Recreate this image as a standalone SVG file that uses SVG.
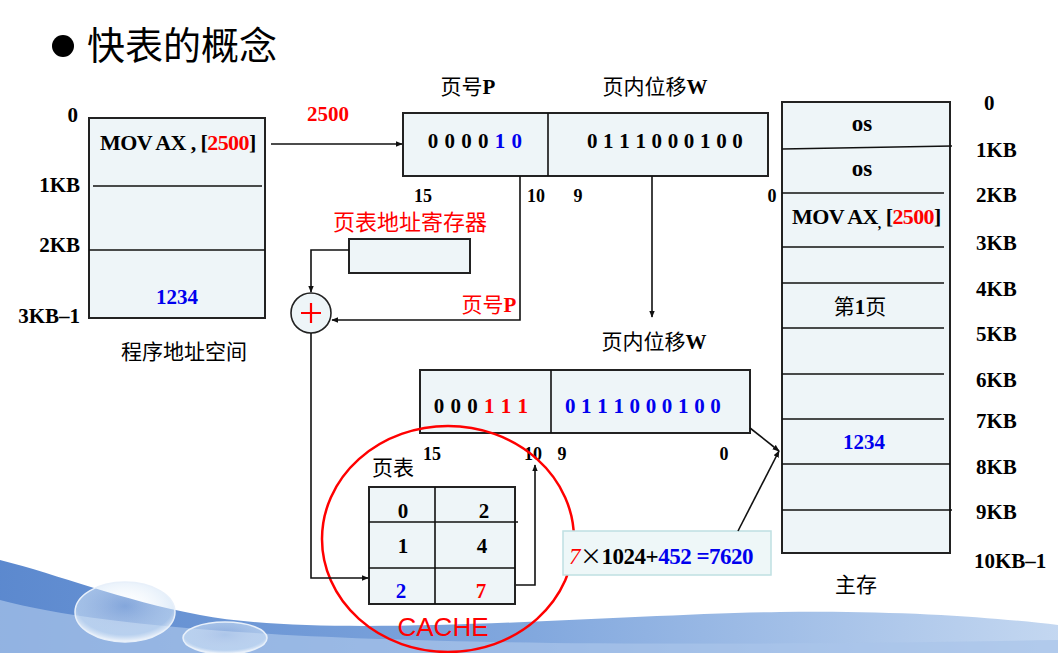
<svg xmlns="http://www.w3.org/2000/svg" width="1058" height="653" viewBox="0 0 1058 653" font-size="20">
<defs>
<style>
.b{font-family:"Liberation Serif","Noto Sans CJK SC",serif;font-weight:bold;fill:#000}
.c{font-family:"Noto Sans CJK SC",sans-serif;fill:#000}
.red{fill:#ff0000}
.blue{fill:#0000ee}
.box{fill:#eef5f8;stroke:#222;stroke-width:2}
.ln{stroke:#111;stroke-width:1.6;fill:none}
</style>
<marker id="ah" viewBox="0 0 10 10" refX="9" refY="5" markerWidth="7" markerHeight="7" orient="auto-start-reverse" markerUnits="userSpaceOnUse">
<path d="M0,1 L10,5 L0,9 z" fill="#111"/>
</marker>
<linearGradient id="wave" x1="0" y1="0" x2="1" y2="0">
<stop offset="0" stop-color="#3f74c6"/>
<stop offset="0.5" stop-color="#6b98d8"/>
<stop offset="1" stop-color="#b9d0ee"/>
</linearGradient>
<radialGradient id="bub" cx="0.5" cy="0.4" r="0.6">
<stop offset="0" stop-color="#ffffff" stop-opacity="0.2"/>
<stop offset="0.8" stop-color="#cfe2f6" stop-opacity="0.6"/>
<stop offset="1" stop-color="#ffffff" stop-opacity="0.9"/>
</radialGradient>
</defs>
<rect width="1058" height="653" fill="#fff"/>
<g id="decor">
<path d="M0,560 C60,575 120,600 200,615 C330,640 600,615 780,612 C900,610 1000,618 1058,625 L1058,653 L0,653 Z" fill="url(#wave)" opacity="0.85"/>
<path d="M0,600 C150,640 500,650 1058,640 L1058,653 L0,653 Z" fill="#a9c4ea" opacity="0.7"/>
<ellipse cx="125" cy="612" rx="50" ry="30" fill="url(#bub)" stroke="#e8f0fa" stroke-width="1.5"/>
<ellipse cx="225" cy="638" rx="42" ry="16" fill="url(#bub)" stroke="#e8f0fa" stroke-width="1.5"/>
</g>
<g id="title">
<circle cx="63" cy="46" r="11" fill="#000"/>
<text class="c" x="87" y="59" font-size="38">快表的概念</text>
</g>
<g id="program-space">
<rect class="box" x="89" y="118" width="176" height="200"/>
<line class="ln" x1="93" y1="186" x2="262" y2="186"/>
<line class="ln" x1="89" y1="250" x2="265" y2="250"/>
<text class="b" x="100" y="150" font-size="22" letter-spacing="-0.6">MOV AX , [<tspan class="red">2500</tspan>]</text>
<text class="b blue" x="177" y="304" text-anchor="middle" font-size="21">1234</text>
<text class="b" x="78" y="122" text-anchor="end" font-size="21">0</text>
<text class="b" x="80" y="192" text-anchor="end" font-size="21">1KB</text>
<text class="b" x="80" y="252" text-anchor="end" font-size="21">2KB</text>
<text class="b" x="80" y="323" text-anchor="end" font-size="21">3KB–1</text>
<text class="c" x="184" y="359" text-anchor="middle" font-size="21">程序地址空间</text>
</g>
<g id="logical-address">
<rect class="box" x="403" y="113" width="365" height="63"/>
<line class="ln" x1="548" y1="113" x2="548" y2="176"/>
<text class="b" x="475" y="148" text-anchor="middle" font-size="21" letter-spacing="0.5">0 0 0 0 <tspan class="blue">1 0</tspan></text>
<text class="b" x="665" y="148" text-anchor="middle" font-size="21" letter-spacing="0.2">0 1 1 1 0 0 0 1 0 0</text>
<text class="c" x="468" y="94" text-anchor="middle" font-size="21">页号<tspan font-family="'Liberation Serif',serif" font-weight="bold">P</tspan></text>
<text class="c" x="655" y="94" text-anchor="middle" font-size="21">页内位移<tspan font-family="'Liberation Serif',serif" font-weight="bold">W</tspan></text>
<text class="b" x="423" y="202" text-anchor="middle" font-size="18">15</text>
<text class="b" x="536" y="202" text-anchor="middle" font-size="18">10</text>
<text class="b" x="578" y="202" text-anchor="middle" font-size="18">9</text>
<text class="b" x="772" y="202" text-anchor="middle" font-size="18">0</text>
<text class="b red" x="328" y="121" text-anchor="middle" font-size="21">2500</text>
</g>
<g id="pt-register">
<text class="c red" x="410" y="230" text-anchor="middle" font-size="22">页表地址寄存器</text>
<rect class="box" x="349" y="239" width="121" height="34"/>
</g>
<g id="adder">
<circle cx="311" cy="313" r="20" fill="#eef5f8" stroke="#222" stroke-width="1.6"/>
<path d="M301,313 H321 M311,303 V323" stroke="#ff0000" stroke-width="2.2"/>
<text class="c red" x="489" y="312" text-anchor="middle" font-size="21">页号<tspan font-family="'Liberation Serif',serif" font-weight="bold">P</tspan></text>
</g>
<g id="physical-address">
<rect class="box" x="420" y="370" width="330" height="63"/>
<line class="ln" x1="551" y1="370" x2="551" y2="433"/>
<text class="b" x="481" y="413" text-anchor="middle" font-size="21" letter-spacing="0.5">0 0 0 <tspan class="red">1 1 1</tspan></text>
<text class="b blue" x="643" y="413" text-anchor="middle" font-size="21" letter-spacing="0.2">0 1 1 1 0 0 0 1 0 0</text>
<text class="c" x="654" y="349" text-anchor="middle" font-size="21">页内位移<tspan font-family="'Liberation Serif',serif" font-weight="bold">W</tspan></text>
<text class="b" x="432" y="460" text-anchor="middle" font-size="18">15</text>
<text class="b" x="533" y="460" text-anchor="middle" font-size="18">10</text>
<text class="b" x="562" y="460" text-anchor="middle" font-size="18">9</text>
<text class="b" x="724" y="460" text-anchor="middle" font-size="18">0</text>
</g>
<g id="page-table">
<text class="c" x="393" y="475" text-anchor="middle" font-size="21">页表</text>
<rect class="box" x="369" y="487" width="146" height="117"/>
<line class="ln" x1="435" y1="487" x2="435" y2="604"/>
<line class="ln" x1="369" y1="522" x2="518" y2="522"/>
<line class="ln" x1="369" y1="568" x2="515" y2="568"/>
<text class="b" x="403" y="518" text-anchor="middle" font-size="21">0</text>
<text class="b" x="484" y="518" text-anchor="middle" font-size="21">2</text>
<text class="b" x="403" y="553" text-anchor="middle" font-size="21">1</text>
<text class="b" x="482" y="553" text-anchor="middle" font-size="21">4</text>
<text class="b blue" x="401" y="598" text-anchor="middle" font-size="21">2</text>
<text class="b red" x="481" y="598" text-anchor="middle" font-size="21">7</text>
<ellipse cx="448" cy="539" rx="126" ry="113" fill="none" stroke="#ff0000" stroke-width="2.5"/>
<text x="443" y="636" text-anchor="middle" font-family="'Liberation Sans',sans-serif" font-size="26" fill="#ff0000">CACHE</text>
</g>
<g id="formula">
<rect x="563" y="531" width="208" height="44" fill="#eef7f8" stroke="#bfe0e2" stroke-width="1.5"/>
<text x="569" y="564" font-family="'Liberation Serif',serif" font-size="23" font-weight="bold" letter-spacing="-0.5"><tspan fill="#ff0000" font-style="italic" font-weight="normal">7</tspan><tspan fill="#000" font-weight="normal" font-family="'Noto Sans CJK SC',sans-serif" font-size="22">×</tspan><tspan fill="#000">1024+</tspan><tspan fill="#0000ee">452 =7620</tspan></text>
</g>
<g id="main-memory">
<rect class="box" x="782" y="102" width="168" height="451"/>
<line class="ln" x1="782" y1="149" x2="952" y2="146"/>
<line class="ln" x1="782" y1="193" x2="944" y2="193"/>
<line class="ln" x1="782" y1="247" x2="944" y2="247"/>
<line class="ln" x1="782" y1="283" x2="944" y2="283"/>
<line class="ln" x1="782" y1="328" x2="944" y2="328"/>
<line class="ln" x1="782" y1="374" x2="944" y2="374"/>
<line class="ln" x1="782" y1="419" x2="944" y2="419"/>
<line class="ln" x1="782" y1="464" x2="950" y2="464"/>
<line class="ln" x1="782" y1="510" x2="952" y2="510"/>
<text class="b" x="862" y="131" text-anchor="middle" font-size="23">os</text>
<text class="b" x="862" y="176" text-anchor="middle" font-size="23">os</text>
<text class="b" x="792" y="224" font-size="22" letter-spacing="-0.6">MOV AX<tspan font-size="14" dy="4">,</tspan><tspan dy="-4"> [</tspan><tspan class="red">2500</tspan>]</text>
<text class="c" x="860" y="314" text-anchor="middle" font-size="21">第<tspan font-family="'Liberation Serif',serif" font-weight="bold">1</tspan>页</text>
<text class="b blue" x="864" y="449" text-anchor="middle" font-size="21">1234</text>
<text class="c" x="856" y="592" text-anchor="middle" font-size="21">主存</text>
<text class="b" x="984" y="110" font-size="21">0</text>
<text class="b" x="976" y="157" font-size="21">1KB</text>
<text class="b" x="976" y="202" font-size="21">2KB</text>
<text class="b" x="976" y="250" font-size="21">3KB</text>
<text class="b" x="976" y="296" font-size="21">4KB</text>
<text class="b" x="976" y="341" font-size="21">5KB</text>
<text class="b" x="976" y="387" font-size="21">6KB</text>
<text class="b" x="976" y="428" font-size="21">7KB</text>
<text class="b" x="976" y="474" font-size="21">8KB</text>
<text class="b" x="976" y="519" font-size="21">9KB</text>
<text class="b" x="974" y="568" font-size="21">10KB–1</text>
</g>
<g id="connectors">
<line class="ln" x1="271" y1="144" x2="402" y2="144" marker-end="url(#ah)"/>
<polyline class="ln" points="520,176 520,320 332,320" marker-end="url(#ah)"/>
<line class="ln" x1="652" y1="176" x2="652" y2="317" marker-end="url(#ah)"/>
<polyline class="ln" points="349,250 311,250 311,292" marker-end="url(#ah)"/>
<polyline class="ln" points="311,333 311,578 368,578" marker-end="url(#ah)"/>
<polyline class="ln" points="516,585 535,585 535,465" marker-end="url(#ah)"/>
<line class="ln" x1="750" y1="428" x2="779" y2="451" marker-end="url(#ah)"/>
<line class="ln" x1="738" y1="531" x2="779" y2="451" marker-end="url(#ah)"/>
</g>
</svg>
